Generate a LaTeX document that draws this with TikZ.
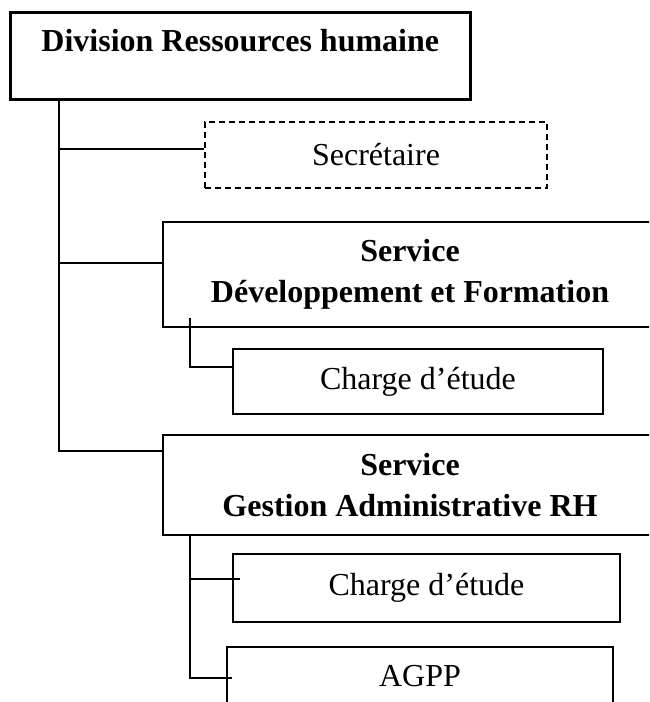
\documentclass[tikz,border=0pt]{standalone}
\usepackage{fontspec}
\setmainfont{Liberation Serif}
\begin{document}
\begin{tikzpicture}[x=1pt,y=-1pt,
  box/.style={draw, rectangle, line width=1.9pt, inner sep=0pt, align=center,
    font=\fontsize{32}{41}\selectfont},
  boxb/.style={box, font=\fontsize{32}{41}\selectfont\bfseries},
  link/.style={draw, line width=1.9pt}]
\useasboundingbox (0,0) rectangle (649,702);
\clip (0,0) rectangle (649,702);

% head of the division
\node[boxb, line width=2.6pt, anchor=north west, minimum width=460pt,
      text height=39pt, text depth=48pt] (div) at (9,11) {Division Ressources humaine};

% attached staff and services
\node[box, dash pattern=on 6pt off 4pt, minimum width=342pt, minimum height=66pt]
      (sec) at (376,155) {Secrétaire};
\node[boxb, minimum width=494pt, minimum height=105pt]
      (df) at (410,274.5) {Service\\Développement et Formation};
\node[box, minimum width=370pt, minimum height=65pt]
      (ch1) at (418,381.5) {Charge d’étude};
\node[boxb, minimum width=494pt, minimum height=100pt]
      (ga) at (410,485) {Service\\Gestion Administrative RH};
\node[box, minimum width=387pt, minimum height=68pt]
      (ch2) at (426.5,588) {Charge d’étude};
\node[box, minimum width=386pt, minimum height=59pt]
      (ag) at (420,676.5) {AGPP};

% main trunk
\coordinate (trunk) at ([xshift=50pt]div.south west);
\draw[link] (trunk) |- ([yshift=-17pt]ga.north west);
\draw[link] ([yshift=6pt]sec.west) -- ([yshift=6pt]sec.west -| trunk);
\draw[link] ([yshift=11.5pt]df.west) -- ([yshift=11.5pt]df.west -| trunk);

% branch of the development service
\coordinate (dfb) at ([xshift=28pt,yshift=10pt]df.south west);
\draw[link] (dfb) |- ([yshift=14.5pt]ch1.west);

% branch of the administrative service
\coordinate (gab) at ([xshift=28pt]ga.south west);
\draw[link] (gab) |- ([xshift=6pt,yshift=-1.5pt]ag.west);
\draw[link] ([yshift=9pt]ch2.west -| gab) -- ([xshift=8pt,yshift=9pt]ch2.west);
\end{tikzpicture}
\end{document}
